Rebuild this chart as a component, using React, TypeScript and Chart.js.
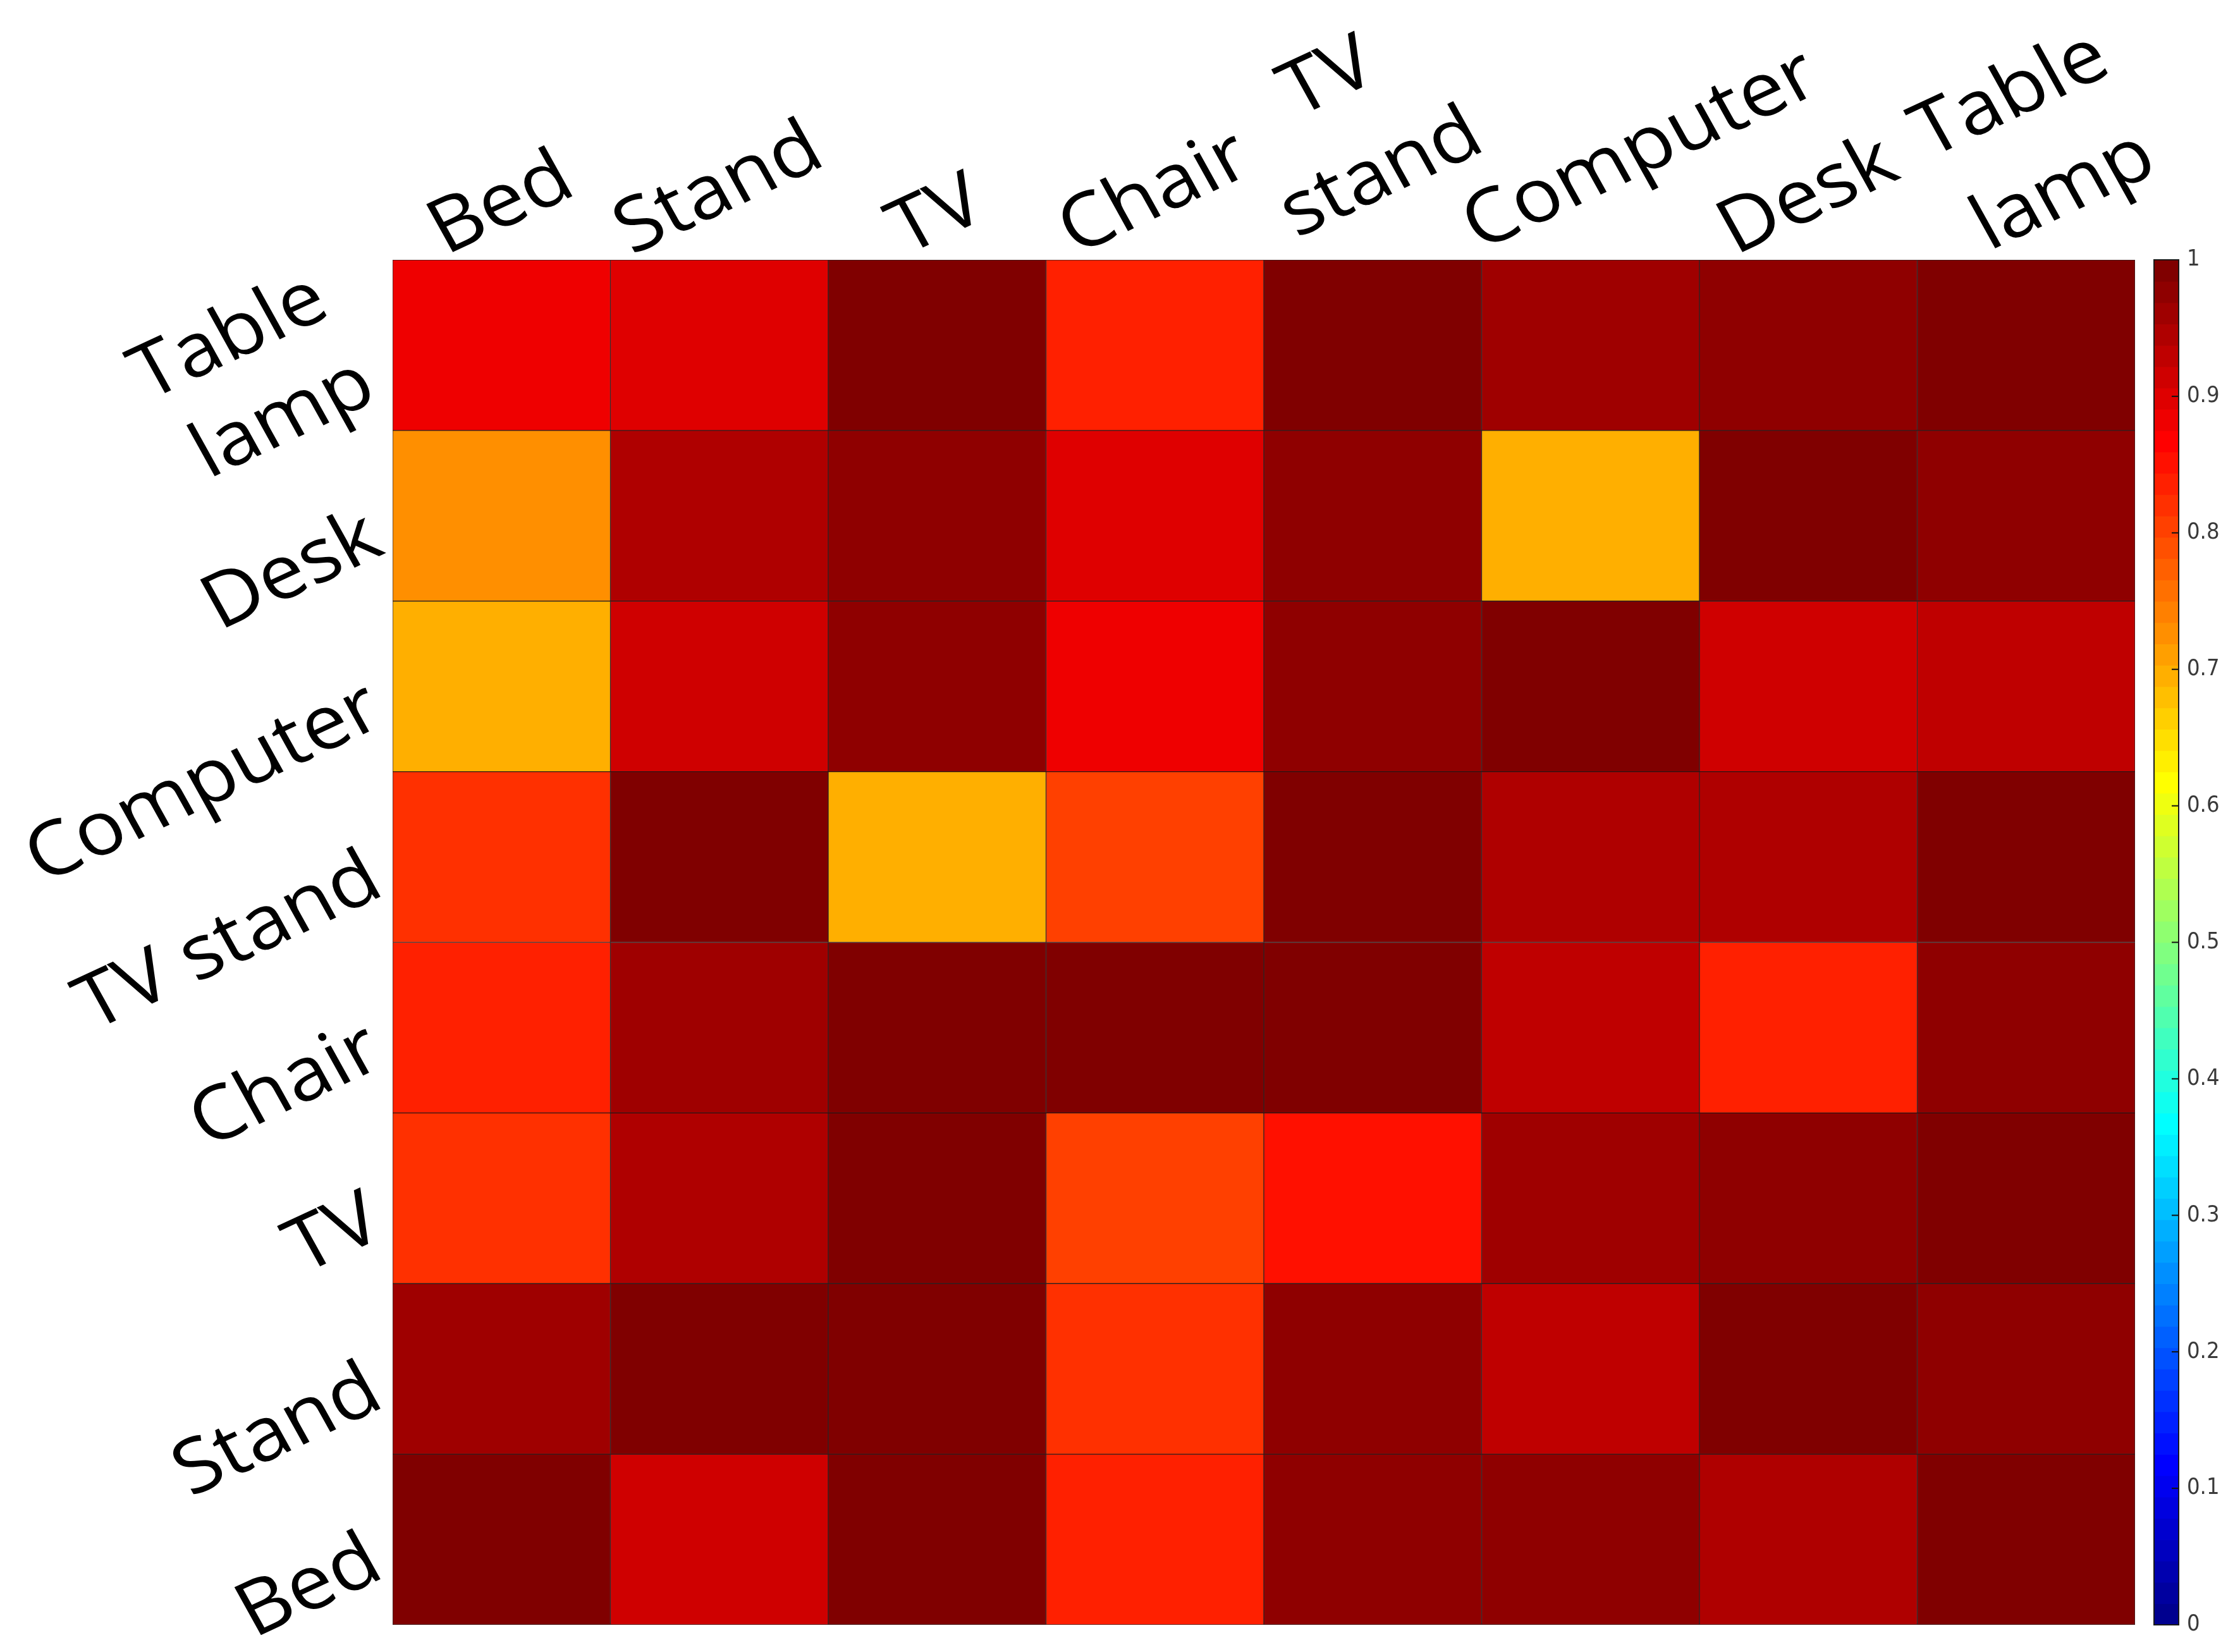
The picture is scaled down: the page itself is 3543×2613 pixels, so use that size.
import React, { useEffect, useRef } from 'react';
import { Chart, registerables } from 'chart.js';

Chart.register(...registerables);

// ---------- data ----------
const columnLabels = ['Bed', 'Stand', 'TV', 'Chair', 'TV stand', 'Computer', 'Desk', 'Table lamp'];
const columnLabelLines = [['Bed'], ['Stand'], ['TV'], ['Chair'], ['TV', 'stand'], ['Computer'], ['Desk'], ['Table', 'lamp']];
// rows listed top to bottom
const rowLabels = ['Table lamp', 'Desk', 'Computer', 'TV stand', 'Chair', 'TV', 'Stand', 'Bed'];
const rowLabelLines = [['Table', 'lamp'], ['Desk'], ['Computer'], ['TV stand'], ['Chair'], ['TV'], ['Stand'], ['Bed']];

const rowTableLamp = [0.88, 0.90, 0.99, 0.84, 0.99, 0.96, 0.98, 1.0];
const rowDesk = [0.73, 0.95, 0.98, 0.90, 0.98, 0.70, 1.0, 0.98];
const rowComputer = [0.70, 0.92, 0.98, 0.88, 0.98, 1.0, 0.92, 0.93];
const rowTVStand = [0.82, 0.99, 0.70, 0.81, 1.0, 0.95, 0.95, 0.99];
const rowChair = [0.84, 0.96, 0.99, 1.0, 0.99, 0.93, 0.84, 0.98];
const rowTV = [0.82, 0.95, 1.0, 0.81, 0.85, 0.96, 0.98, 0.99];
const rowStand = [0.96, 1.0, 0.99, 0.82, 0.98, 0.93, 0.99, 0.98];
const rowBed = [1.0, 0.92, 0.99, 0.84, 0.98, 0.98, 0.95, 0.99];

const matrixRows = [rowTableLamp, rowDesk, rowComputer, rowTVStand, rowChair, rowTV, rowStand, rowBed];

const colorbarTickValues = [0, 0.1, 0.2, 0.3, 0.4, 0.5, 0.6, 0.7, 0.8, 0.9, 1];

// ---------- styling ----------
const W = 3543;
const H = 2613;
const LABEL_FONT = '119px "Open Sans", "Noto Sans", sans-serif';
const TOP_LINE = 170;
const LEFT_LINE = 150;
const STRETCH_X = 1.09;
const ANGLE = (27 * Math.PI) / 180;
const TOP_NUDGE: Record<string, [number, number]> = {
  Computer: [80, 18],
  'TV stand': [-28, -27],
  'Table lamp': [18, 18],
};
const LEFT_NUDGE: Record<string, [number, number]> = { 'Table lamp': [-48, -40] };

const JET_LEVELS = 64;
function jetU(k: number) {
  if (k < 1) return 0;
  if (k <= 16) return k / 16;
  if (k <= 31) return 1;
  if (k <= 47) return (48 - k) / 16;
  return 0;
}
function jetRGB(i: number) {
  const r = i >= 25 ? jetU(i - 24) : 0;
  const g = i >= 9 && i <= 55 ? jetU(i - 8) : 0;
  const b = i <= 39 ? jetU(i + 8) : 0;
  return `rgb(${Math.round(r * 255)},${Math.round(g * 255)},${Math.round(b * 255)})`;
}
function jetColor(v: number) {
  const i = Math.max(1, Math.min(JET_LEVELS, Math.floor(v * JET_LEVELS) + 1));
  return jetRGB(i);
}

function drawRotatedLines(
  ctx: CanvasRenderingContext2D,
  x: number,
  y: number,
  lines: string[],
  align: CanvasTextAlign,
  lineH: number
) {
  ctx.save();
  ctx.translate(x, y);
  ctx.scale(STRETCH_X, 1);
  ctx.rotate(-ANGLE);
  ctx.textAlign = align;
  ctx.textBaseline = 'middle';
  lines.forEach((t, i) => {
    ctx.fillText(t, 0, (i - (lines.length - 1) / 2) * lineH);
  });
  ctx.restore();
}

const labelsPlugin = {
  id: 'heatLabels',
  afterDraw(chart: any) {
    const ctx: CanvasRenderingContext2D = chart.ctx;
    const area = chart.chartArea;
    const xs = chart.scales.x;
    const ys = chart.scales.y;
    ctx.save();
    ctx.font = LABEL_FONT;
    ctx.fillStyle = '#000';
    ctx.textBaseline = 'middle';
    // top (column) labels: centred on the column, lowest ink point just above the plot
    const targetBottom = area.top - 6;
    columnLabelLines.forEach((lines, c) => {
      const nudge = TOP_NUDGE[columnLabels[c]] || [0, 0];
      const cx = xs.getPixelForValue(c) + nudge[0];
      let maxY = -Infinity;
      lines.forEach((t, i) => {
        const m = ctx.measureText(t);
        const vi = (i - (lines.length - 1) / 2) * TOP_LINE;
        const yLow = (m.width / 2) * Math.sin(ANGLE) + (vi + m.actualBoundingBoxDescent) * Math.cos(ANGLE);
        if (yLow > maxY) maxY = yLow;
      });
      drawRotatedLines(ctx, cx, targetBottom - maxY + nudge[1], lines, 'center', TOP_LINE);
    });
    // left (row) labels: right aligned, ending next to the row centre
    rowLabelLines.forEach((lines, r) => {
      const nudge = LEFT_NUDGE[rowLabels[r]] || [0, 0];
      const rowFromBottom = rowLabels.length - 1 - r;
      const cy = ys.getPixelForValue(rowFromBottom + 0.5);
      const ax = area.left - 26 + nudge[0];
      drawRotatedLines(ctx, ax, cy + 28 + nudge[1], lines, 'right', LEFT_LINE);
    });
    ctx.restore();
  },
};

const colorbarPlugin = {
  id: 'colorbar',
  afterDatasetsDraw(chart: any) {
    const ctx: CanvasRenderingContext2D = chart.ctx;
    const cb = chart.scales.cb;
    const x0 = cb.left + 30;
    const w = 39;
    const top = cb.getPixelForValue(1);
    const bottom = cb.getPixelForValue(0);
    ctx.save();
    for (let i = 1; i <= JET_LEVELS; i++) {
      const y1 = cb.getPixelForValue((i - 1) / JET_LEVELS);
      const y2 = cb.getPixelForValue(i / JET_LEVELS);
      ctx.fillStyle = jetRGB(i);
      ctx.fillRect(x0, y2, w, y1 - y2 + 0.8);
    }
    ctx.strokeStyle = '#111';
    ctx.lineWidth = 2;
    colorbarTickValues.forEach((v) => {
      if (v === 0 || v === 1) return;
      const y = cb.getPixelForValue(v);
      ctx.beginPath();
      ctx.moveTo(x0 + w - 11, y);
      ctx.lineTo(x0 + w, y);
      ctx.stroke();
    });
    ctx.lineWidth = 2;
    ctx.strokeStyle = '#1a1a1a';
    ctx.strokeRect(x0, top, w, bottom - top);
    ctx.restore();
  },
};

export default function App() {
  const ref = useRef<HTMLCanvasElement>(null);
  useEffect(() => {
    document.body.style.margin = '0';
    document.body.style.background = '#ffffff';
    const nRows = rowLabels.length;
    const datasets = matrixRows.map((vals, r) => {
      const rowFromBottom = nRows - 1 - r;
      return {
        label: rowLabels[r],
        data: columnLabels.map(() => [rowFromBottom, rowFromBottom + 1]),
        backgroundColor: vals.map(jetColor),
        borderColor: 'rgba(15,0,0,0.85)',
        borderWidth: 1,
        borderSkipped: false,
        grouped: false,
        barPercentage: 1,
        categoryPercentage: 1,
        yAxisID: 'y',
        xAxisID: 'x',
      };
    });
    const chart = new Chart(ref.current as HTMLCanvasElement, {
      type: 'bar',
      data: { labels: columnLabels, datasets: datasets as any },
      options: {
        responsive: false,
        animation: false,
        maintainAspectRatio: false,
        layout: { padding: { top: 0, left: 0, right: 0, bottom: 43 } },
        plugins: {
          legend: { display: false },
          tooltip: { enabled: false },
          title: { display: false },
        },
        scales: {
          x: {
            type: 'category',
            position: 'top',
            offset: true,
            grid: { display: false, drawTicks: false },
            border: { display: false },
            ticks: { display: false },
            afterFit: (s: any) => {
              s.height = 411;
            },
          },
          y: {
            type: 'linear',
            position: 'left',
            min: 0,
            max: rowLabels.length,
            grid: { display: false, drawTicks: false },
            border: { display: false },
            ticks: { display: false },
            afterFit: (s: any) => {
              s.width = 621;
            },
          },
          cb: {
            type: 'linear',
            position: 'right',
            min: 0,
            max: 1,
            afterBuildTicks: (s: any) => {
              s.ticks = colorbarTickValues.map((v) => ({ value: v }));
            },
            grid: { display: false, drawTicks: true, tickLength: 80 },
            border: { display: false },
            ticks: {
              padding: 2,
              color: '#3a3a3a',
              font: { family: '"Liberation Sans Narrow", "DejaVu Sans Condensed", Arial, sans-serif', size: 36 },
              callback: (v: any) => String(Math.round(Number(v) * 10) / 10),
            },
            afterFit: (s: any) => {
              s.width = W - 3377;
            },
          },
        },
      } as any,
      plugins: [colorbarPlugin, labelsPlugin],
    });
    return () => chart.destroy();
  }, []);
  return (
    <div style={{ width: W, height: H, background: '#ffffff' }}>
      <canvas ref={ref} width={W} height={H} style={{ display: 'block', width: W, height: H }} />
    </div>
  );
}
